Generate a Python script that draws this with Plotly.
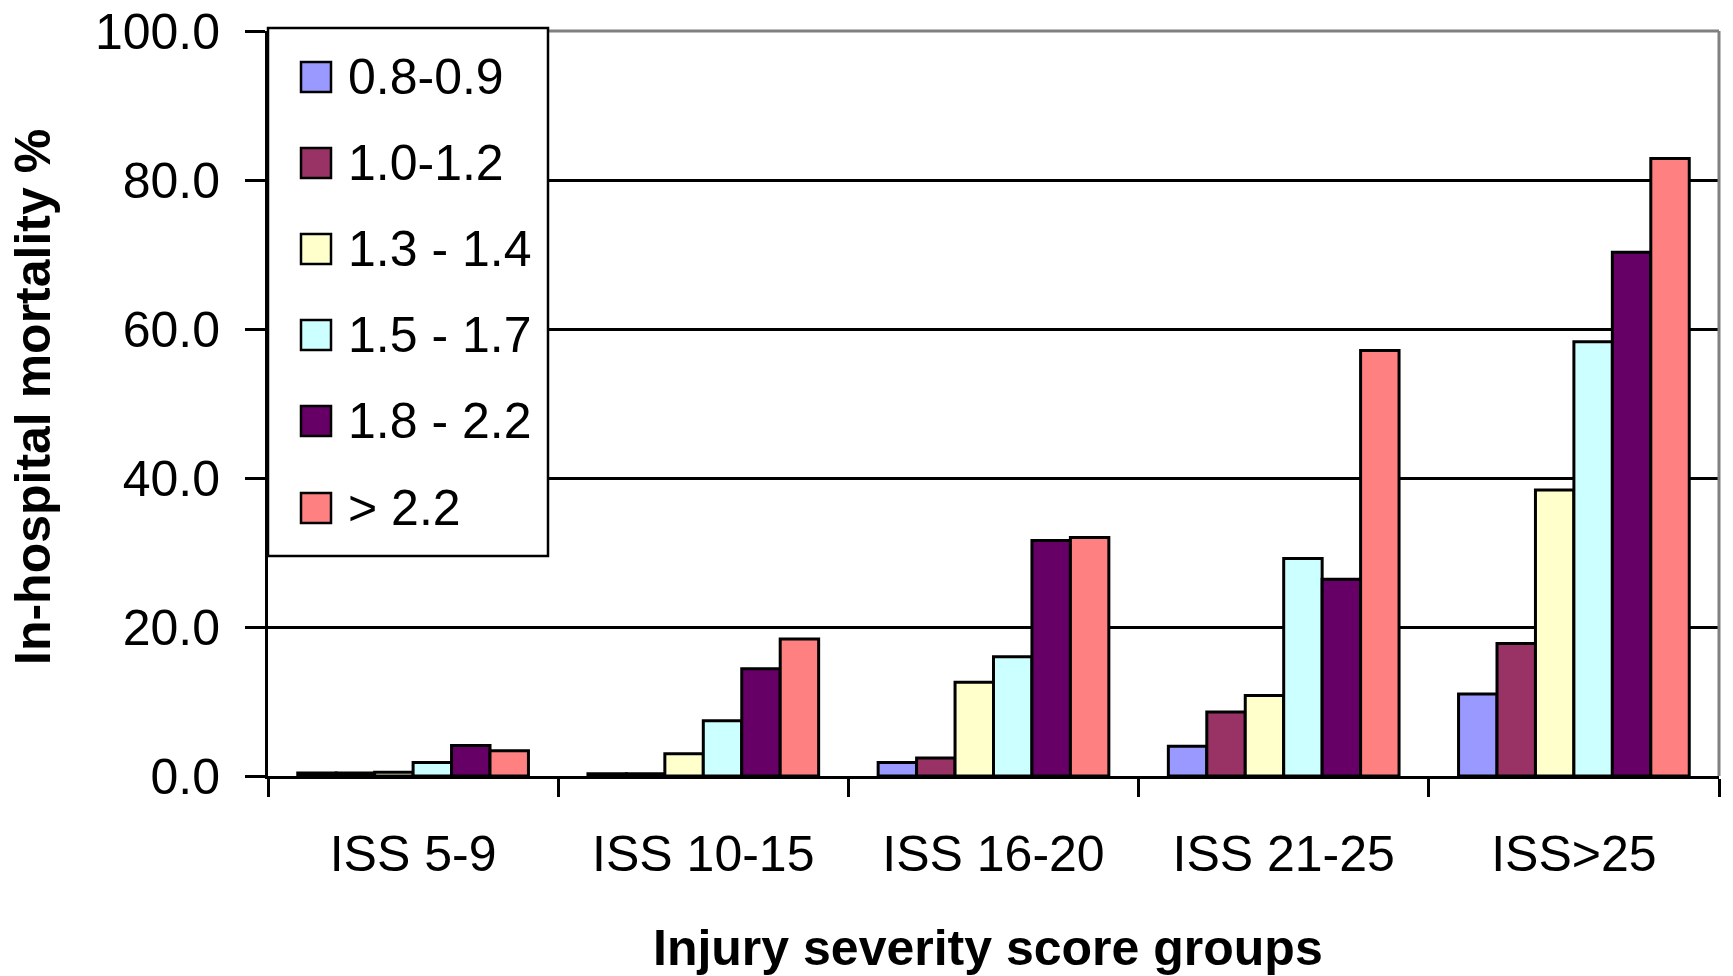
import plotly.graph_objects as go

# ISS groups and mortality (%) by ratio band
categories = ["ISS 5-9", "ISS 10-15", "ISS 16-20", "ISS 21-25", "ISS>25"]
series_names = ["0.8-0.9", "1.0-1.2", "1.3 - 1.4", "1.5 - 1.7", "1.8 - 2.2", "> 2.2"]
series_values = [
    [0.4, 0.3, 1.8, 4.0, 11.0],
    [0.4, 0.3, 2.4, 8.6, 17.8],
    [0.5, 3.0, 12.6, 10.8, 38.4],
    [1.8, 7.4, 16.0, 29.2, 58.3],
    [4.1, 14.4, 31.6, 26.4, 70.3],
    [3.4, 18.4, 32.0, 57.1, 82.9],
]
colors = ["#9999FF", "#993366", "#FFFFCC", "#CCFFFF", "#660066", "#FF8080"]
y_ticks = [0, 20, 40, 60, 80, 100]

W, H = 1733, 976
L, R, T, B = 268, 14, 31, 200
PW, PH = W - L - R, H - T - B

def px(x):
    return (x - L) / PW

def py(y):
    return (H - B - y) / PH

FONT = "Liberation Sans, Arial, sans-serif"
FS = 50

fig = go.Figure()
for name, vals, col in zip(series_names, series_values, colors):
    fig.add_trace(go.Bar(
        x=categories, y=vals, name=name,
        marker=dict(color=col, line=dict(color="black", width=3)),
        showlegend=False,
    ))

shapes = []
annotations = []

# gray frame on the top and right of the plot area
shapes.append(dict(type="line", xref="paper", yref="paper", x0=0, x1=1, y0=1, y1=1,
                   line=dict(color="#808080", width=3), layer="above"))
shapes.append(dict(type="line", xref="paper", yref="paper", x0=1, x1=1, y0=0, y1=1,
                   line=dict(color="#808080", width=3), layer="above"))

# legend box
shapes.append(dict(type="rect", xref="paper", yref="paper",
                   x0=px(268), x1=px(548), y0=py(556), y1=py(28),
                   fillcolor="white", line=dict(color="black", width=2.5), layer="above"))
item_y = [77, 163, 249, 335, 421, 508]
for name, col, yc in zip(series_names, colors, item_y):
    shapes.append(dict(type="rect", xref="paper", yref="paper",
                       x0=px(301), x1=px(331), y0=py(yc + 15), y1=py(yc - 15),
                       fillcolor=col, line=dict(color="black", width=2.5), layer="above"))
    annotations.append(dict(text=name, xref="paper", yref="paper", x=px(346), y=py(yc),
                            xanchor="left", yanchor="middle", showarrow=False,
                            font=dict(family=FONT, size=FS, color="black")))

# axis titles
annotations.append(dict(text="<b>Injury severity score groups</b>", xref="paper", yref="paper",
                        x=0.496, y=py(948), xanchor="center", yanchor="middle", showarrow=False,
                        font=dict(family=FONT, size=FS, color="black")))
annotations.append(dict(text="<b>In-hospital mortality %</b>", xref="paper", yref="paper",
                        x=px(33), y=py(397), xanchor="center", yanchor="middle", showarrow=False,
                        textangle=-90, font=dict(family=FONT, size=FS, color="black")))

fig.update_layout(
    width=W, height=H,
    margin=dict(l=L, r=R, t=T, b=B, autoexpand=False),
    paper_bgcolor="white", plot_bgcolor="white",
    barmode="group", bargap=0.205, bargroupgap=0,
    shapes=shapes, annotations=annotations,
    font=dict(family=FONT, size=FS, color="black"),
)
fig.update_xaxes(
    automargin=False,
    showline=True, linecolor="black", linewidth=3,
    ticks="outside", tickson="boundaries", ticklen=18, tickwidth=3, tickcolor="black",
    ticklabelstandoff=32,
    tickfont=dict(family=FONT, size=FS, color="black"),
    showgrid=False,
)
fig.update_yaxes(
    automargin=False,
    range=[0, 100], tickvals=y_ticks, tickformat=".1f",
    showline=True, linecolor="black", linewidth=3,
    ticks="outside", ticklen=20, tickwidth=3, tickcolor="black",
    ticklabelstandoff=15,
    showgrid=True, gridcolor="black", gridwidth=2.5,
    zeroline=False,
    tickfont=dict(family=FONT, size=FS, color="black"),
)

fig.write_html("out.html")
